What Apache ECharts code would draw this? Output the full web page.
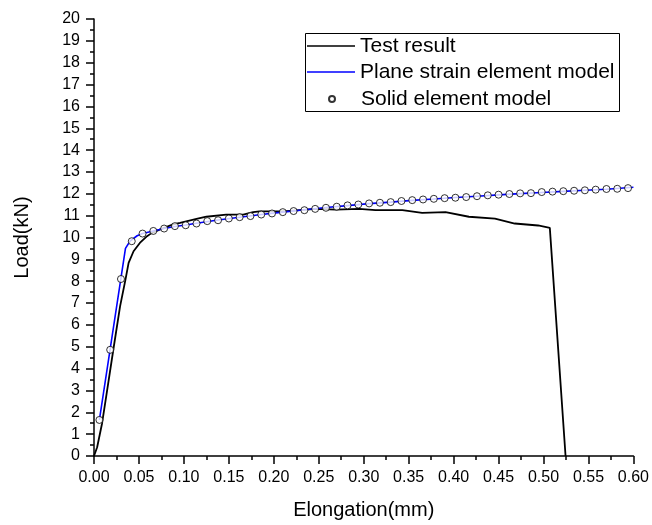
<!DOCTYPE html>
<html>
<head>
<meta charset="utf-8">
<script src="https://cdn.jsdelivr.net/npm/echarts@6/dist/echarts.min.js"></script>
<style>html,body{margin:0;padding:0;background:#fff}#c{width:652px;height:525px}</style>
</head>
<body>
<div id="c"></div>
<script>
var seriesNames = ['Test result', 'Plane strain element model', 'Solid element model'];
var xTickLabels = ['0.00','0.05','0.10','0.15','0.20','0.25','0.30','0.35','0.40','0.45','0.50','0.55','0.60'];

var testResult = [
  [0,0],[0.0035,0.4],[0.009,1.5],[0.0146,3.0],[0.022,5.0],[0.029,6.85],[0.035,8.07],
  [0.0385,8.84],[0.044,9.37],[0.051,9.75],[0.059,10.06],[0.064,10.2],[0.0736,10.37],
  [0.088,10.6],[0.0957,10.67],[0.114,10.85],[0.125,10.95],[0.147,11.05],[0.166,11.05],
  [0.177,11.16],[0.184,11.2],[0.21,11.2],[0.247,11.31],[0.269,11.28],[0.295,11.31],
  [0.313,11.25],[0.343,11.25],[0.365,11.13],[0.391,11.16],[0.417,10.95],[0.446,10.86],
  [0.468,10.64],[0.494,10.55],[0.507,10.44],[0.5245,0]
];

var planeStrain = [
  [0.006,1.65],[0.035,9.5],[0.040,9.83],[0.048,10.08],[0.054,10.18],[0.066,10.3],
  [0.078,10.41],[0.090,10.5],[0.102,10.57],[0.114,10.65],[0.138,10.8],[0.162,10.93],
  [0.186,11.05],[0.21,11.16],[0.234,11.27],[0.258,11.37],[0.282,11.46],[0.306,11.55],
  [0.33,11.62],[0.354,11.7],[0.378,11.76],[0.402,11.83],[0.426,11.89],[0.45,11.95],
  [0.474,12.01],[0.498,12.06],[0.522,12.11],[0.546,12.16],[0.57,12.21],[0.6,12.3]
];

var solidX = [0.006,0.018,0.030,0.042,0.054,0.066,0.078,0.090,0.102,0.114,
  0.126,0.138,0.150,0.162,0.174,0.186,0.198,0.210,0.222,0.234,
  0.246,0.258,0.270,0.282,0.294,0.306,0.318,0.330,0.342,0.354,
  0.366,0.378,0.390,0.402,0.414,0.426,0.438,0.450,0.462,0.474,
  0.486,0.498,0.510,0.522,0.534,0.546,0.558,0.570,0.582,0.594];
var solidY = [1.65,4.86,8.1,9.83,10.18,10.3,10.41,10.52,10.56,10.64,
  10.75,10.79,10.87,10.93,10.98,11.05,11.10,11.16,11.21,11.25,
  11.31,11.36,11.41,11.47,11.51,11.56,11.59,11.62,11.67,11.71,
  11.74,11.77,11.80,11.82,11.85,11.89,11.93,11.96,11.99,12.02,
  12.03,12.08,12.10,12.12,12.14,12.16,12.19,12.22,12.23,12.26];

var solidData = solidX.map(function (x, i) { return [x, solidY[i]]; });

var FONT = 'Liberation Sans, Arial, sans-serif';
var chart = echarts.init(document.getElementById('c'), null, {renderer: 'canvas'});

function legendAt(name, left, top, w, h, icon, textPadLeft) {
  return {
    data: [{name: name, icon: icon}], orient: 'vertical', left: left, top: top, padding: 0,
    itemWidth: w, itemHeight: h, itemGap: 5, selectedMode: false,
    textStyle: {fontFamily: FONT, fontSize: 21, color: '#000', lineHeight: 24,
      padding: [0, 0, 0, textPadLeft]}
  };
}

chart.setOption({
  animation: false,
  backgroundColor: '#fff',
  grid: {left: 94, right: 16, top: 19, bottom: 69, containLabel: false},
  legend: [
    legendAt(seriesNames[0], 307, 34, 48, 1.6, 'rect', 0),
    legendAt(seriesNames[1], 307, 60, 48, 1.6, 'rect', 0),
    legendAt(seriesNames[2], 328, 87, 6, 6, 'circle', 21)
  ],
  graphic: [{
    type: 'rect', left: 303, top: 31, silent: true,
    shape: {width: 314, height: 78},
    style: {fill: 'none', stroke: '#000', lineWidth: 1}
  }],
  xAxis: {
    type: 'value', min: 0, max: 0.6, interval: 0.05,
    name: 'Elongation(mm)', nameLocation: 'middle', nameGap: 44,
    nameTextStyle: {fontFamily: FONT, fontSize: 20, color: '#000'},
    axisLine: {show: true, onZero: false, lineStyle: {color: '#000', width: 1.5}},
    axisTick: {show: true, inside: false, length: 8, lineStyle: {color: '#000', width: 1.5}},
    minorTick: {show: true, splitNumber: 2, length: 4, lineStyle: {color: '#000', width: 1.5}},
    splitLine: {show: false},
    axisLabel: {
      fontFamily: FONT, fontSize: 16, color: '#000', margin: 14,
      formatter: function (v) { return xTickLabels[Math.round(v / 0.05)]; }
    }
  },
  yAxis: {
    type: 'value', min: 0, max: 20, interval: 1,
    name: 'Load(kN)', nameLocation: 'middle', nameGap: 62, nameRotate: 90,
    nameTextStyle: {fontFamily: FONT, fontSize: 20, color: '#000'},
    axisLine: {show: true, onZero: false, lineStyle: {color: '#000', width: 1.5}},
    axisTick: {show: true, inside: false, length: 8, lineStyle: {color: '#000', width: 1.5}},
    minorTick: {show: true, splitNumber: 2, length: 4, lineStyle: {color: '#000', width: 1.5}},
    splitLine: {show: false},
    axisLabel: {fontFamily: FONT, fontSize: 16, color: '#000', margin: 14}
  },
  series: [
    {
      name: seriesNames[0], type: 'line', data: testResult, symbol: 'none',
      lineStyle: {color: '#000', width: 1.8}, itemStyle: {color: '#000'}, z: 2
    },
    {
      name: seriesNames[1], type: 'line', data: planeStrain, symbol: 'none',
      lineStyle: {color: '#0000ff', width: 1.6}, itemStyle: {color: '#0000ff'}, z: 3
    },
    {
      name: seriesNames[2], type: 'scatter', data: solidData, symbol: 'circle', symbolSize: 7,
      itemStyle: {color: '#fff', borderColor: '#000', borderWidth: 1}, z: 4
    }
  ]
});
</script>
</body>
</html>
